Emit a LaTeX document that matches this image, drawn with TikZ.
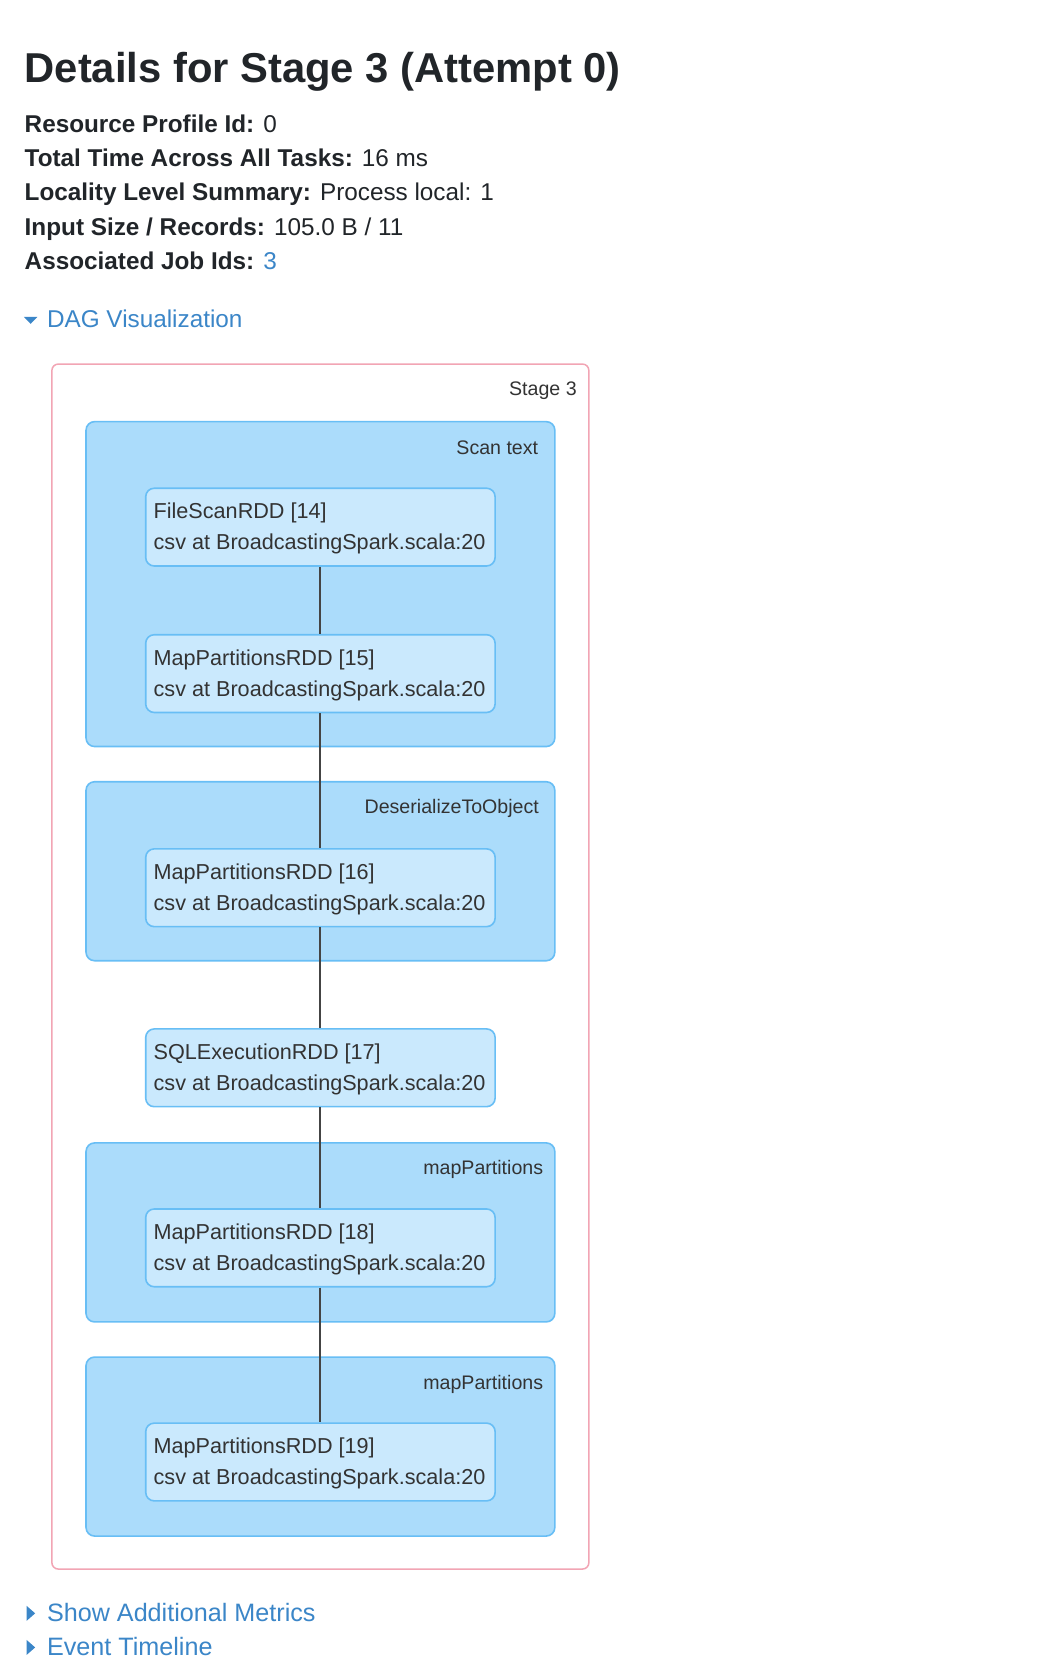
\documentclass[tikz,border=0pt]{standalone}
\usepackage{fontspec}
\setmainfont{Liberation Sans}
\definecolor{hdr}{HTML}{212529}
\definecolor{link}{HTML}{3B86C8}
\definecolor{stagec}{HTML}{F2A5B4}
\definecolor{clfill}{HTML}{ABDCFB}
\definecolor{clline}{HTML}{68BEF5}
\definecolor{ndfill}{HTML}{CAE9FD}
\definecolor{ndtext}{HTML}{333333}
\definecolor{edgec}{HTML}{444444}
\tikzset{
  titletxt/.style={anchor=base west, inner sep=0pt, text=hdr, font=\fontsize{39}{46}\selectfont\bfseries},
  headtxt/.style={anchor=base west, inner sep=0pt, text=hdr, font=\fontsize{22.7}{27}\selectfont},
  linktxt/.style={anchor=base west, inner sep=0pt, text=link, font=\fontsize{22.7}{27}\selectfont},
  foottxt/.style={anchor=base west, inner sep=0pt, text=link, font=\fontsize{23.5}{28}\selectfont},
  stagebox/.style={draw=stagec, line width=1.4pt, fill=white, rounded corners=6pt, anchor=north west, inner sep=0pt},
  clusterbox/.style={draw=clline, line width=1.5pt, fill=clfill, rounded corners=8pt, anchor=north west, inner sep=0pt, minimum width=437.9pt},
  rddbox/.style={draw=clline, line width=1.5pt, fill=ndfill, rounded corners=8pt, anchor=north west, inner sep=0pt, minimum width=326.4pt, minimum height=72.65pt},
  rddtxt/.style={anchor=base west, inner sep=0pt, text=ndtext, font=\fontsize{20.2}{24}\selectfont},
  clabel/.style={anchor=base east, inner sep=0pt, text=ndtext, font=\fontsize{18.3}{22}\selectfont},
  edgeline/.style={draw=edgec, line width=1.9pt},
}
\begin{document}
\begin{tikzpicture}[x=0.9952pt,y=-0.9952pt]
\useasboundingbox[fill=white] (0,0) rectangle (979.9,1567.5);

% header
\node[titletxt] (title) at (23,77) {Details for Stage 3 (Attempt 0)};
\node[headtxt] (h1) at (23,124.3) {\textbf{Resource Profile Id:} 0};
\node[headtxt] (h2) at (23,156.4) {\textbf{Total Time Across All Tasks:} 16 ms};
\node[headtxt] (h3) at (23,188.6) {\textbf{Locality Level Summary:} Process local: 1};
\node[headtxt] (h4) at (23,220.9) {\textbf{Input Size / Records:} 105.0 B / 11};
\node[headtxt] (h5) at (23,253.2) {\textbf{Associated Job Ids:} \textcolor{link}{3}};

\fill[link] (22.5,297.5) -- (35,297.5) -- (28.75,304) -- cycle;
\node[linktxt] (dag) at (44,307.5) {DAG Visualization};

% stage
\node[stagebox, minimum width=501.6pt, minimum height=1125.6pt] (stage) at (48,341) {};
\node[clabel] (stagelbl) at (541.5,371.5) {Stage 3};

% clusters
\node[clusterbox, minimum height=303.5pt] (c1) at (80,395) {};
\node[clabel] (c1l) at (505.3,426.2) {Scan text};
\node[clusterbox, minimum height=167.2pt] (c2) at (80,733) {};
\node[clabel] (c2l) at (506,764) {DeserializeToObject};
\node[clusterbox, minimum height=167.2pt] (c3) at (80,1072) {};
\node[clabel] (c3l) at (510,1102) {mapPartitions};
\node[clusterbox, minimum height=167.2pt] (c4) at (80,1273) {};
\node[clabel] (c4l) at (510,1304) {mapPartitions};

% rdd nodes
\node[rddbox] (n14) at (136,457.5) {};
\node[rddtxt] (n14a) at (144,487) {FileScanRDD [14]};
\node[rddtxt] (n14b) at (144,516) {csv at BroadcastingSpark.scala:20};
\node[rddbox] (n15) at (136,595) {};
\node[rddtxt] (n15a) at (144,624.5) {MapPartitionsRDD [15]};
\node[rddtxt] (n15b) at (144,653.5) {csv at BroadcastingSpark.scala:20};
\node[rddbox] (n16) at (136,796) {};
\node[rddtxt] (n16a) at (144,825.5) {MapPartitionsRDD [16]};
\node[rddtxt] (n16b) at (144,854.5) {csv at BroadcastingSpark.scala:20};
\node[rddbox] (n17) at (136,965) {};
\node[rddtxt] (n17a) at (144,994.5) {SQLExecutionRDD [17]};
\node[rddtxt] (n17b) at (144,1023.5) {csv at BroadcastingSpark.scala:20};
\node[rddbox] (n18) at (136,1134) {};
\node[rddtxt] (n18a) at (144,1163.5) {MapPartitionsRDD [18]};
\node[rddtxt] (n18b) at (144,1192.5) {csv at BroadcastingSpark.scala:20};
\node[rddbox] (n19) at (136,1335) {};
\node[rddtxt] (n19a) at (144,1364.5) {MapPartitionsRDD [19]};
\node[rddtxt] (n19b) at (144,1393.5) {csv at BroadcastingSpark.scala:20};

% edges
\draw[edgeline] (n14.south) -- (n15.north);
\draw[edgeline] (n15.south) -- (n16.north);
\draw[edgeline] (n16.south) -- (n17.north);
\draw[edgeline] (n17.south) -- (n18.north);
\draw[edgeline] (n18.south) -- (n19.north);

% footer links
\fill[link] (25,1507.3) -- (33,1514.3) -- (25,1521.3) -- cycle;
\node[foottxt] (more) at (44,1521.5) {Show Additional Metrics};
\fill[link] (25,1539.3) -- (33,1546.3) -- (25,1553.3) -- cycle;
\node[foottxt] (timeline) at (44,1553.5) {Event Timeline};
\end{tikzpicture}
\end{document}
